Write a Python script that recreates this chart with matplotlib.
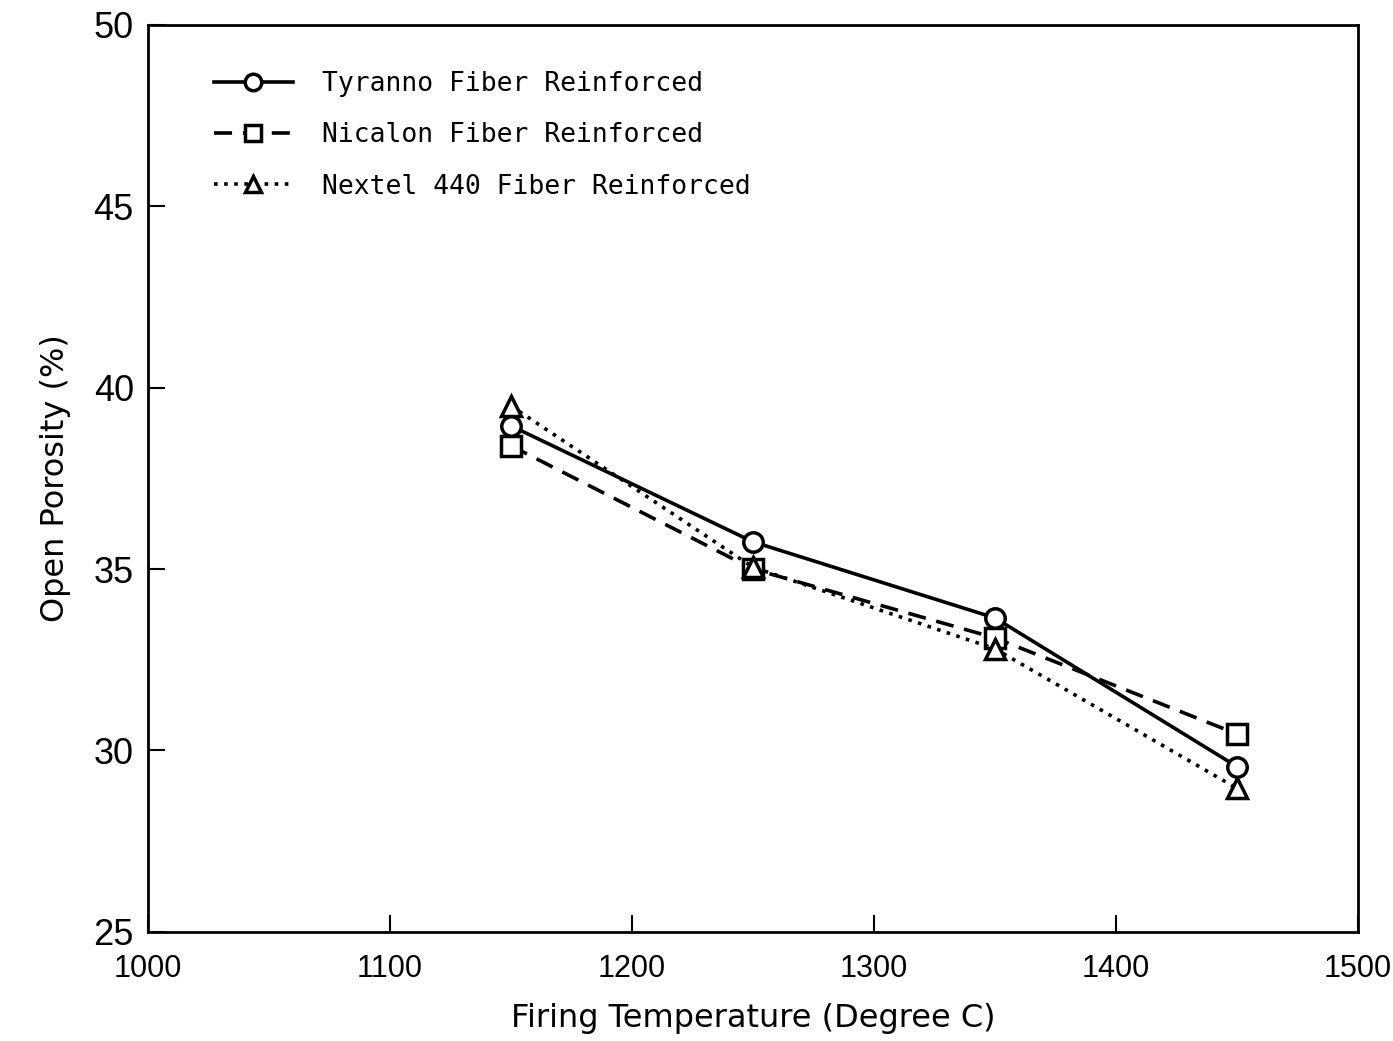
import matplotlib
matplotlib.use("Agg")
import matplotlib.pyplot as plt

# firing temperature (deg C) and open porosity (%)
temps = [1150, 1250, 1350, 1450]
tyranno = [38.95, 35.75, 33.65, 29.55]
nicalon = [38.4, 35.0, 33.1, 30.45]
nextel = [39.5, 35.05, 32.8, 28.95]

labels = ["Tyranno Fiber Reinforced", "Nicalon Fiber Reinforced",
          "Nextel 440 Fiber Reinforced"]

fig = plt.figure(figsize=(13.93, 10.41), dpi=100)
ax = fig.add_axes([0.106, 0.105, 0.869, 0.871])

mk = dict(markersize=14, markerfacecolor="white", markeredgecolor="black",
          markeredgewidth=2.5, color="black", linewidth=2.6)
ax.plot(temps, tyranno, "-", marker="o", label=labels[0], zorder=4, **mk)
ax.plot(temps, nicalon, marker="s", linestyle=(0, (5, 3)), label=labels[1],
        zorder=3, **mk)
ax.plot(temps, nextel, marker="^", linestyle=(0, (1, 1.8)), label=labels[2],
        zorder=3, **mk)

ax.set_xlim(1000, 1500)
ax.set_ylim(25, 50)
ax.set_xticks([1000, 1100, 1200, 1300, 1400, 1500])
ax.set_yticks([25, 30, 35, 40, 45, 50])
ax.tick_params(direction="in", length=12, width=1.5)
ax.tick_params(axis="x", pad=16, labelsize=22)
ax.tick_params(axis="y", pad=10, labelsize=26)
for lab in ax.get_xticklabels() + ax.get_yticklabels():
    lab.set_family("Liberation Sans")
for s in ax.spines.values():
    s.set_linewidth(2)

ax.set_xlabel("Firing Temperature (Degree C)", fontsize=23, labelpad=14)
ax.set_ylabel("Open Porosity (%)", fontsize=23, labelpad=16)

ax.legend(loc="upper left", bbox_to_anchor=(0.035, 0.975), frameon=False,
          prop={"family": "DejaVu Sans Mono", "size": 19},
          handlelength=3.0, handletextpad=1.1, labelspacing=0.95,
          markerscale=0.85)

fig.savefig("out.png", dpi=100)
